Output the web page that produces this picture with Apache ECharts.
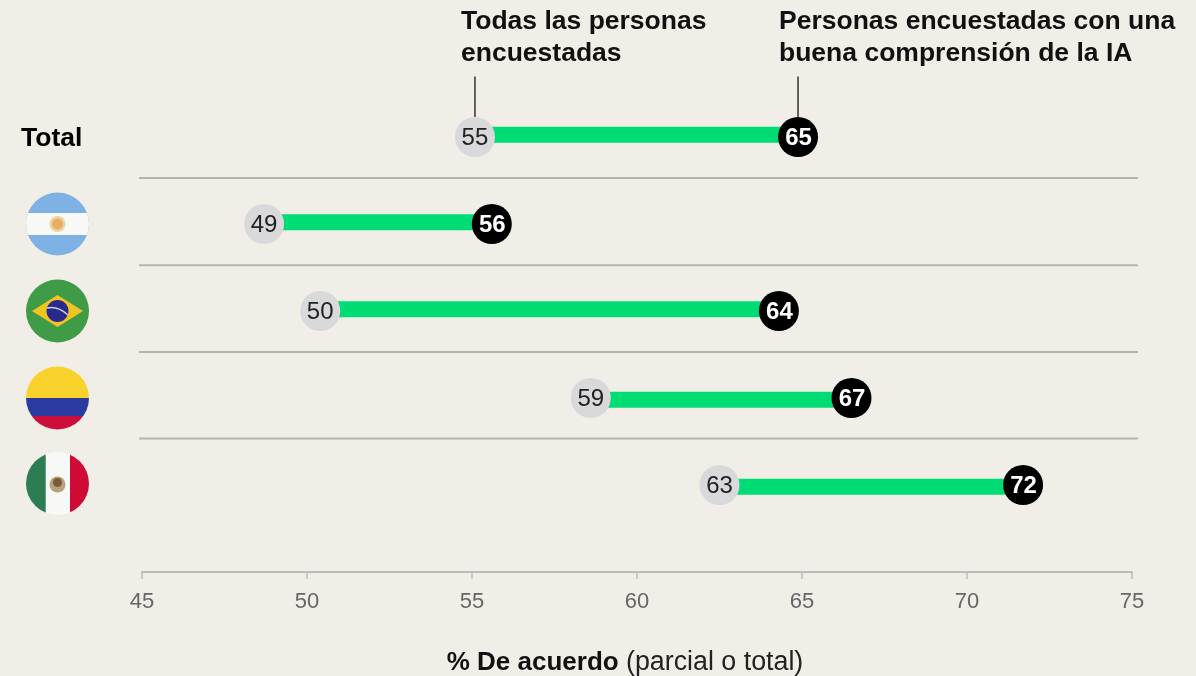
<!DOCTYPE html>
<html><head><meta charset="utf-8">
<style>html,body{margin:0;padding:0;background:#f1eee7}#c{width:1196px;height:676px}</style>
<script src="https://cdn.jsdelivr.net/npm/echarts@6/dist/echarts.min.js"></script>
</head><body><div id="c"></div>
<script>
const rows = ['Total', 'Argentina', 'Brasil', 'Colombia', 'México'];
const allRespondents = [55.09, 48.7, 50.4, 58.6, 62.5];
const goodUnderstanding = [64.88, 55.6, 64.3, 66.5, 71.7];
const allLabels = [55, 49, 50, 59, 63];
const goodLabels = [65, 56, 64, 67, 72];
const barRows = [-0.026, 0.98, 1.98, 3.02, 4.02];
const separators = [0.471, 1.475, 2.471, 3.466];
const seriesNames = ['Todas las personas\nencuestadas', 'Personas encuestadas con una\nbuena comprensión de la IA'];

const FONT = '"Liberation Sans", Arial, sans-serif';
const rowIdx = rows.map((_, i) => i);

function flagItems(name) {
  const r = (x, y, w, h, fill) => ({type: 'rect', shape: {x, y, width: w, height: h}, style: {fill}});
  const R = 32;
  if (name === 'Argentina') return [
    r(-R, -R, 2*R, 2*R, '#7eb1e4'), r(-R, -11, 2*R, 22, '#f8f8f6'),
    {type: 'circle', shape: {cx: 0, cy: 0, r: 8}, style: {fill: '#f0d2a0'}},
    {type: 'circle', shape: {cx: 0, cy: 0, r: 5.5}, style: {fill: '#e6b060'}}];
  if (name === 'Brasil') return [
    r(-R, -R, 2*R, 2*R, '#3f9b46'),
    {type: 'polygon', shape: {points: [[-25.5, 0], [0, -16], [25.5, 0], [0, 16]]}, style: {fill: '#f2c41f'}},
    {type: 'circle', shape: {cx: 0, cy: 0, r: 11}, style: {fill: '#2a2a8c'}},
    {type: 'bezierCurve', shape: {x1: -10.5, y1: -3, cpx1: -4, cpy1: -4.5, x2: 10.5, y2: 4, cpx2: 4, cpy2: -2}, style: {stroke: '#cdd3e6', lineWidth: 1.3, fill: null}}];
  if (name === 'Colombia') return [
    r(-R, -R, 2*R, R, '#fad22c'), r(-R, 0, 2*R, 18, '#2a3b9f'), r(-R, 18, 2*R, R - 18, '#cd0e3c')];
  return [
    r(-R, -R, 2*R, 2*R, '#f8f8f6'), r(-R, -R, 20.2, 2*R, '#2c7d52'), r(12.5, -R, 19.5, 2*R, '#cf0a35'),
    {type: 'circle', shape: {cx: 0, cy: 1, r: 8}, style: {fill: '#b7a27a'}},
    {type: 'circle', shape: {cx: 0, cy: -1, r: 4.5}, style: {fill: '#7a5a3c'}}];
}

const chart = echarts.init(document.getElementById('c'), null, {renderer: 'canvas'});
chart.setOption({
  backgroundColor: '#f1eee7',
  animation: false,
  textStyle: {fontFamily: FONT},
  grid: {left: 142, right: 64, top: 93.5, height: 478.5, outerBoundsMode: 'none'},
  xAxis: {
    type: 'value', min: 45, max: 75, interval: 5, position: 'bottom',
    splitLine: {show: false},
    axisLine: {show: true, onZero: false, lineStyle: {color: '#bcbcbc', width: 2}},
    axisTick: {show: true, length: 7, lineStyle: {color: '#bcbcbc', width: 1.5}},
    axisLabel: {color: '#666666', fontSize: 22, margin: 19, fontFamily: FONT},
    name: '{b|% De acuerdo} {n|(parcial o total)}',
    nameLocation: 'middle', nameGap: 77,
    nameTextStyle: {
      padding: [0, 24, 0, 0],
      rich: {
        b: {fontWeight: 'bold', fontSize: 26, color: '#111', fontFamily: FONT},
        n: {fontSize: 26.8, color: '#222', fontFamily: FONT, padding: [0, 0, 0, 4]}
      }
    }
  },
  yAxis: {type: 'value', inverse: true, min: -0.5, max: 5, show: false},
  series: [
    {
      type: 'custom', name: 'separators', silent: true, z: 1,
      coordinateSystem: 'cartesian2d', clip: false,
      data: separators.map(v => [45, v]),
      renderItem: (p, api) => {
        const y = api.coord([api.value(0), api.value(1)])[1];
        return {type: 'line', shape: {x1: 139, y1: y, x2: 1138, y2: y}, style: {stroke: '#b4b4b4', lineWidth: 2}};
      }
    },
    {
      type: 'custom', name: 'range', silent: true, z: 2,
      coordinateSystem: 'cartesian2d',
      data: rowIdx.map(i => [allRespondents[i], goodUnderstanding[i], barRows[i]]),
      encode: {x: [0, 1], y: 2},
      renderItem: (p, api) => {
        const a = api.coord([api.value(0), api.value(2)]);
        const b = api.coord([api.value(1), api.value(2)]);
        return {type: 'rect', shape: {x: a[0], y: a[1] - 8, width: b[0] - a[0], height: 16}, style: {fill: '#00dc74'}};
      }
    },
    {
      type: 'custom', name: 'connectors', silent: true, z: 2,
      coordinateSystem: 'cartesian2d', clip: false,
      data: [[allRespondents[0], 0], [goodUnderstanding[0], 0]],
      renderItem: (p, api) => {
        const c = api.coord([api.value(0), api.value(1)]);
        return {type: 'line', shape: {x1: c[0], y1: c[1] - 60.5, x2: c[0], y2: c[1] - 20}, style: {stroke: '#333', lineWidth: 1.5}};
      }
    },
    {
      type: 'scatter', name: seriesNames[0], z: 3, symbol: 'circle', symbolSize: 40,
      itemStyle: {color: '#d9d9dc', opacity: 1},
      data: rowIdx.map(i => ({value: [allRespondents[i], i], label: {formatter: String(allLabels[i])}})),
      label: {show: true, position: 'inside', offset: [0, 1.5], color: '#222', fontSize: 24, fontFamily: FONT}
    },
    {
      type: 'scatter', name: seriesNames[1], z: 4, symbol: 'circle', symbolSize: 40,
      itemStyle: {color: '#000', opacity: 1},
      data: rowIdx.map(i => ({value: [goodUnderstanding[i], i], label: {formatter: String(goodLabels[i])}})),
      label: {show: true, position: 'inside', offset: [0.5, 1.5], color: '#fff', fontSize: 24, fontWeight: 'bold', fontFamily: FONT}
    },
    {
      type: 'custom', name: 'flags', silent: true, z: 5,
      coordinateSystem: 'cartesian2d', clip: false,
      data: rowIdx.slice(1).map(i => [45, i]),
      renderItem: (p, api) => {
        const y = api.coord([api.value(0), api.value(1)])[1];
        return {
          type: 'group', x: 57.5, y: y + (api.value(1) === 4 ? -1.5 : 0),
          clipPath: {type: 'circle', shape: {cx: 0, cy: 0, r: 31.5}},
          children: flagItems(rows[api.value(1)])
        };
      }
    }
  ],
  graphic: [
    {type: 'text', left: 21, top: 125, style: {text: rows[0], font: 'bold 26.5px ' + FONT, fill: '#000'}},
    {type: 'text', left: 461, top: 6, style: {text: seriesNames[0], font: 'bold 26.5px ' + FONT, fill: '#111', lineHeight: 32}},
    {type: 'text', left: 779, top: 6, style: {text: seriesNames[1], font: 'bold 26.5px ' + FONT, fill: '#111', lineHeight: 32}}
  ]
});
</script></body></html>
